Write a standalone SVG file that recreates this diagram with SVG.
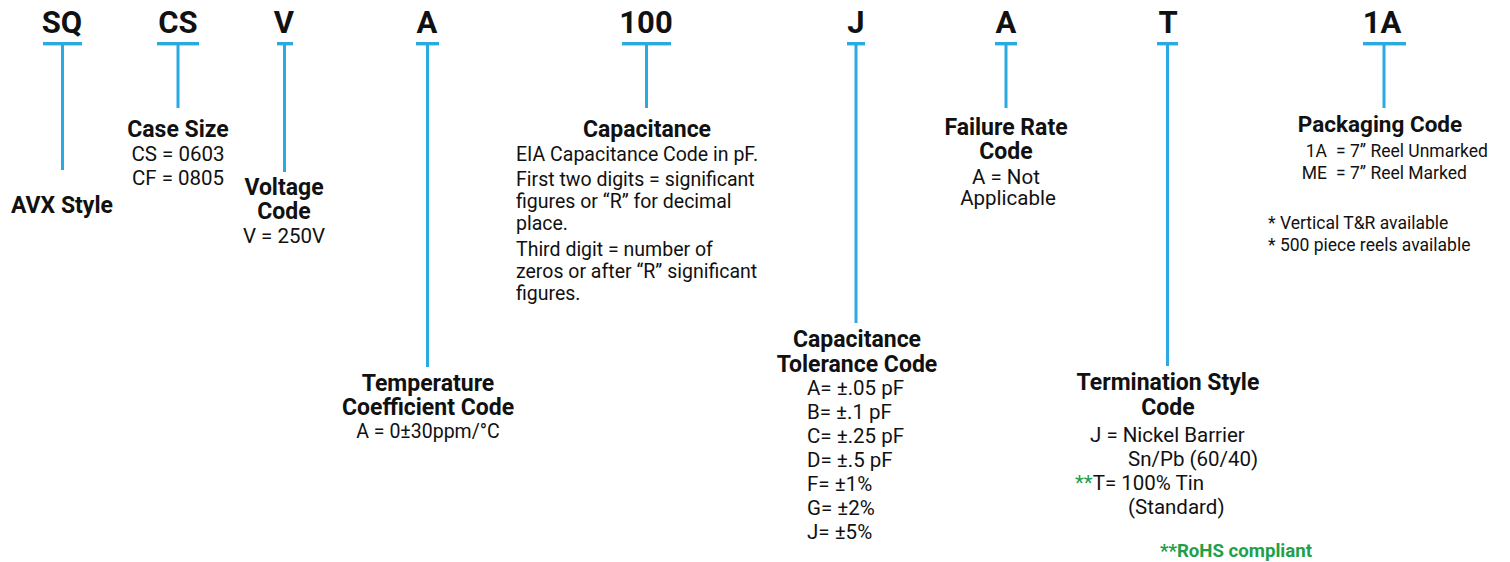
<svg xmlns="http://www.w3.org/2000/svg" width="1510" height="562" viewBox="0 0 1510 562">
<style>
text{font-family:Roboto,"Liberation Sans",Arial,sans-serif;fill:#111;}
.code{font-size:31px;font-weight:700;text-anchor:middle;}
.t{font-size:23px;font-weight:700;text-anchor:middle;}
.r{font-size:20.5px;}
.b{font-size:19.5px;}
.c{text-anchor:middle;}
.p{font-size:17.5px;}
.pt{font-size:22.5px;font-weight:700;text-anchor:middle;}
.g{fill:#21a04a;}
.bar{fill:#2aaae2;}
.ln{stroke:#2aaae2;stroke-width:3;fill:none;}
</style>
<rect width="1510" height="562" fill="#fff"/>
<g id="connectors">
<rect class="bar" x="43" y="42" width="39" height="3.4"/>
<line class="ln" x1="62.5" y1="44" x2="62.5" y2="170"/>
<rect class="bar" x="157" y="42" width="42" height="3.4"/>
<line class="ln" x1="178" y1="44" x2="178" y2="108"/>
<rect class="bar" x="277" y="42" width="16" height="3.4"/>
<line class="ln" x1="284.5" y1="44" x2="284.5" y2="172"/>
<rect class="bar" x="416" y="42" width="23" height="3.4"/>
<line class="ln" x1="427.5" y1="44" x2="427.5" y2="367"/>
<rect class="bar" x="622" y="42" width="49" height="3.4"/>
<line class="ln" x1="646.5" y1="44" x2="646.5" y2="108"/>
<rect class="bar" x="847" y="42" width="18" height="3.4"/>
<line class="ln" x1="856" y1="44" x2="856" y2="323"/>
<rect class="bar" x="995" y="42" width="22" height="3.4"/>
<line class="ln" x1="1006" y1="44" x2="1006" y2="108"/>
<rect class="bar" x="1157" y="42" width="21" height="3.4"/>
<line class="ln" x1="1167.5" y1="44" x2="1167.5" y2="366"/>
<rect class="bar" x="1363" y="42" width="43" height="3.4"/>
<line class="ln" x1="1384" y1="44" x2="1384" y2="108"/>
</g>
<g id="code-sq">
<text class="code" x="62" y="33">SQ</text>
<text class="t" x="62" y="213">AVX Style</text>
</g>
<g id="code-cs">
<text class="code" x="178" y="33">CS</text>
<text class="t" x="178" y="137">Case Size</text>
<text class="r c" x="178" y="161">CS = 0603</text>
<text class="r c" x="178" y="185">CF = 0805</text>
</g>
<g id="code-v">
<text class="code" x="284" y="33">V</text>
<text class="t" x="284" y="195">Voltage</text>
<text class="t" x="284" y="219">Code</text>
<text class="r c" x="284" y="243">V = 250V</text>
</g>
<g id="code-a-temp">
<text class="code" x="427" y="33">A</text>
<text class="t" x="428" y="391">Temperature</text>
<text class="t" x="428" y="415">Coefficient Code</text>
<text class="b c" x="428" y="438">A = 0±30ppm/°C</text>
</g>
<g id="code-100">
<text class="code" x="646" y="33">100</text>
<text class="t" x="647" y="137">Capacitance</text>
<text class="b" x="516" y="161">EIA Capacitance Code in pF.</text>
<text class="b" x="516" y="186">First two digits = significant</text>
<text class="b" x="516" y="208">figures or “R” for decimal</text>
<text class="b" x="516" y="230">place.</text>
<text class="b" x="516" y="256">Third digit = number of</text>
<text class="b" x="516" y="278">zeros or after “R” significant</text>
<text class="b" x="516" y="300">figures.</text>
</g>
<g id="code-j">
<text class="code" x="856" y="33">J</text>
<text class="t" x="857" y="347">Capacitance</text>
<text class="t" x="857" y="372">Tolerance Code</text>
<text class="r" x="807" y="395">A= ±.05 pF</text>
<text class="r" x="807" y="419">B= ±.1 pF</text>
<text class="r" x="807" y="443">C= ±.25 pF</text>
<text class="r" x="807" y="467">D= ±.5 pF</text>
<text class="r" x="807" y="491">F= ±1%</text>
<text class="r" x="807" y="515">G= ±2%</text>
<text class="r" x="807" y="539">J= ±5%</text>
</g>
<g id="code-a-fr">
<text class="code" x="1006" y="33">A</text>
<text class="t" x="1006" y="135">Failure Rate</text>
<text class="t" x="1006" y="159">Code</text>
<text class="r c" x="1006" y="184">A = Not</text>
<text class="r c" x="1008" y="205">Applicable</text>
</g>
<g id="code-t">
<text class="code" x="1168" y="33">T</text>
<text class="t" x="1168" y="390">Termination Style</text>
<text class="t" x="1168" y="415">Code</text>
<text class="r" x="1090" y="442">J = Nickel Barrier</text>
<text class="r" x="1128" y="466">Sn/Pb (60/40)</text>
<text class="r" x="1075" y="490"><tspan class="g">**</tspan>T= 100% Tin</text>
<text class="r" x="1128" y="514">(Standard)</text>
<text class="g" x="1160" y="557" font-size="18" font-weight="700" textLength="152" lengthAdjust="spacingAndGlyphs">**RoHS compliant</text>
</g>
<g id="code-1a">
<text class="code" x="1382" y="33">1A</text>
<text class="pt" x="1380" y="132">Packaging Code</text>
<text class="p" x="1327" y="157" text-anchor="end">1A</text>
<text class="p" x="1336" y="157">= 7” Reel Unmarked</text>
<text class="p" x="1327" y="179" text-anchor="end">ME</text>
<text class="p" x="1336" y="179">= 7” Reel Marked</text>
<text class="p" x="1268" y="229">* Vertical T&amp;R available</text>
<text class="p" x="1268" y="251">* 500 piece reels available</text>
</g>
</svg>
